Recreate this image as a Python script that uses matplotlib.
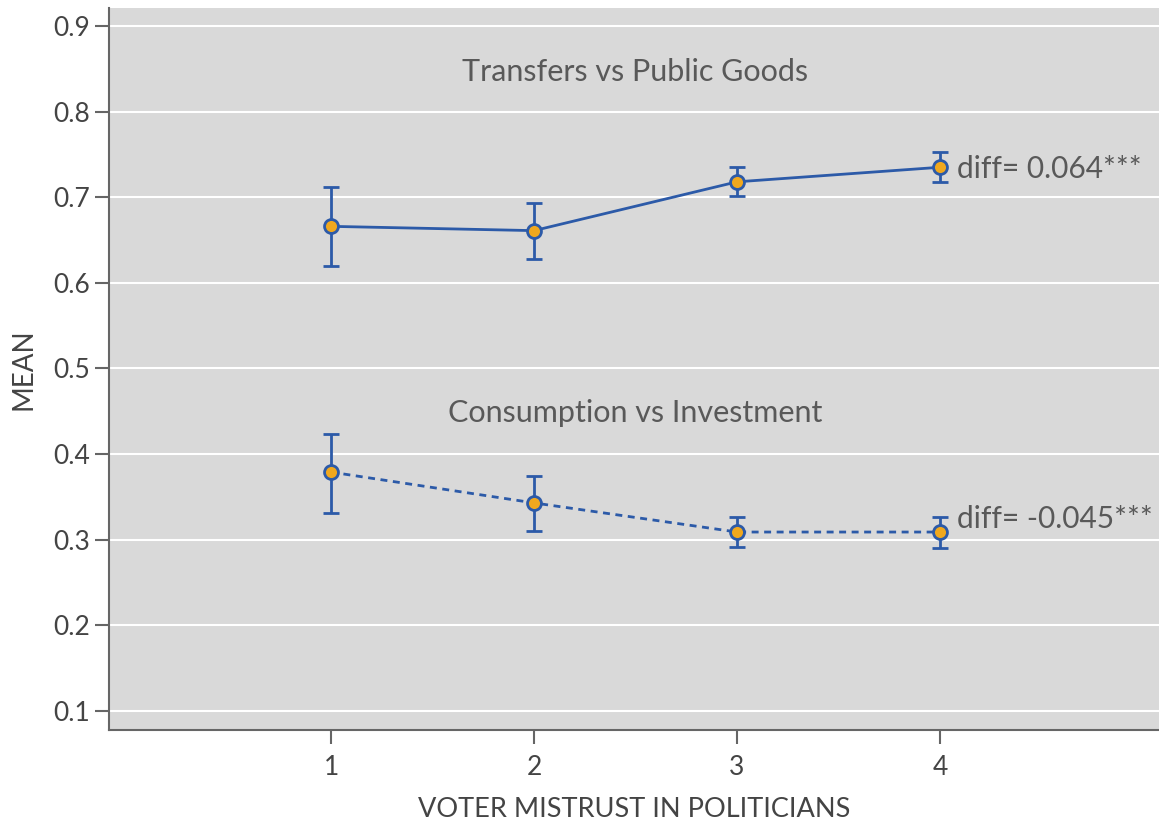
import matplotlib.pyplot as plt

plt.rcParams["font.family"] = ["Lato", "DejaVu Sans"]

mistrust = [1, 2, 3, 4]

transfers_mean = [0.666, 0.661, 0.718, 0.735]
transfers_low = [0.620, 0.628, 0.701, 0.718]
transfers_high = [0.712, 0.693, 0.735, 0.753]

consumption_mean = [0.379, 0.343, 0.309, 0.309]
consumption_low = [0.331, 0.310, 0.291, 0.290]
consumption_high = [0.424, 0.374, 0.326, 0.326]

y_ticks = [0.1, 0.2, 0.3, 0.4, 0.5, 0.6, 0.7, 0.8, 0.9]

line_color = "#2c5aa8"
marker_color = "#f0a81e"
text_color = "#595959"


def plot_series(ax, means, lows, highs, linestyle):
    lower = [m - lo for m, lo in zip(means, lows)]
    upper = [hi - m for m, hi in zip(means, highs)]
    ax.errorbar(
        mistrust,
        means,
        yerr=[lower, upper],
        color=line_color,
        linestyle=linestyle,
        linewidth=2.0,
        elinewidth=2.0,
        capsize=5.5,
        capthick=2.0,
        marker="o",
        markersize=10,
        markerfacecolor=marker_color,
        markeredgecolor=line_color,
        markeredgewidth=2.0,
        zorder=3,
    )


fig = plt.figure(figsize=(11.59, 8.25), dpi=100)
ax = fig.add_axes([109 / 1159, 95 / 825, 1050 / 1159, 722 / 825])
ax.set_facecolor("#d9d9d9")

plot_series(ax, transfers_mean, transfers_low, transfers_high, "-")
plot_series(ax, consumption_mean, consumption_low, consumption_high, (0, (2.5, 2)))

ax.set_xlim(-0.094, 5.079)
ax.set_ylim(0.0778, 0.921)
ax.set_xticks(mistrust)
ax.set_yticks(y_ticks)
ax.set_yticklabels([f"{t:.1f}" for t in y_ticks])
ax.grid(axis="y", color="white", linewidth=1.5)
ax.set_axisbelow(True)

for side in ["top", "right"]:
    ax.spines[side].set_visible(False)
for side in ["left", "bottom"]:
    ax.spines[side].set_color("#666666")
    ax.spines[side].set_linewidth(1.5)

ax.tick_params(axis="both", colors="#666666", labelcolor="#444444",
               labelsize=19, length=10, width=1.5)
ax.tick_params(axis="x", pad=8)

ax.text(2.5, 0.846, "Transfers vs Public Goods", ha="center", va="center",
        fontsize=22, color=text_color)
ax.text(2.5, 0.448, "Consumption vs Investment", ha="center", va="center",
        fontsize=22, color=text_color)
ax.text(4.085, 0.733, "diff= 0.064***", ha="left", va="center",
        fontsize=21.5, color=text_color)
ax.text(4.085, 0.324, "diff= -0.045***", ha="left", va="center",
        fontsize=21.5, color=text_color)

ax.set_xlabel("VOTER MISTRUST IN POLITICIANS", fontsize=19.5, color="#444444",
              labelpad=12)
ax.set_ylabel("MEAN", fontsize=20, color="#444444", labelpad=12)

fig.savefig("out.png", dpi=100)
